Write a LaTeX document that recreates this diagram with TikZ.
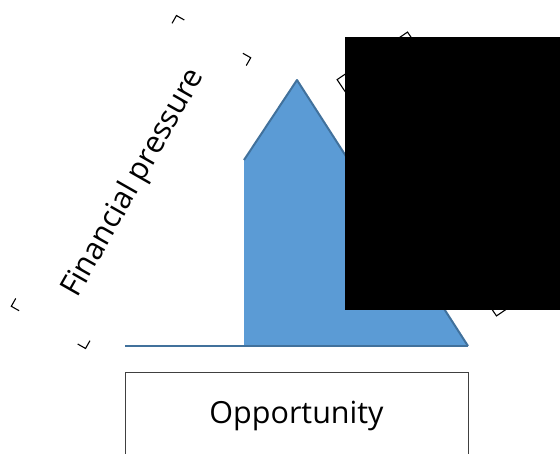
\documentclass[tikz,border=0pt]{standalone}
\usepackage{fontspec}
\setmainfont{Open Sans}
\usetikzlibrary{calc}
\definecolor{wedgefill}{RGB}{91,155,213}
\definecolor{wedgeline}{RGB}{65,113,156}

\begin{document}
\begin{tikzpicture}[x=1pt,y=-1pt]
        \tikzstyle{label}=[font=\fontsize{30.5}{34}\selectfont,inner sep=0pt]
        \tikzstyle{tick}=[black,line width=1.1pt]
        \useasboundingbox (0,0) rectangle (560,453);
        \clip (0,0) rectangle (560,453);

        \begin{scope}
          \coordinate(b1) at (125,346);
          \coordinate(b2) at (244,346);
          \coordinate(s1) at (244,160);
          \coordinate(apex) at (297,80);
          \coordinate(b3) at (468,346);

          \fill[wedgefill] (b2) -- (s1) -- (apex) -- (b3) -- cycle;
          \draw[wedgeline,line width=2.5pt] (b1) -- (b3);
          \draw[wedgeline,line width=2pt,line join=round] (s1) -- (apex) -- (b3);

          \node(opp)[draw=black!75,line width=1pt,minimum width=343pt,minimum height=82pt] at (296.5,413) {};
          \node[label] at ($(opp.center)+(0,3)$) {Opportunity};

          \node(fp)[minimum width=334pt,minimum height=85pt,rotate=60.4] at (131,182) {};
          \node[label,rotate=60.4] at (134,183) {Financial pressure};
          \foreach \c/\a/\b in {north east/south east/north west,south east/north east/south west,south west/north west/south east,north west/south west/north east}
            \draw[tick] ($(fp.\c)!9pt!(fp.\a)$) -- (fp.\c) -- ($(fp.\c)!9pt!(fp.\b)$);

          \node(rt)[draw,line width=1.1pt,minimum width=285pt,minimum height=85pt,rotate=-56] at (452,174) {};
          \fill[black] (345,37) rectangle (560,310);
        \end{scope}
\end{tikzpicture}
\end{document}
